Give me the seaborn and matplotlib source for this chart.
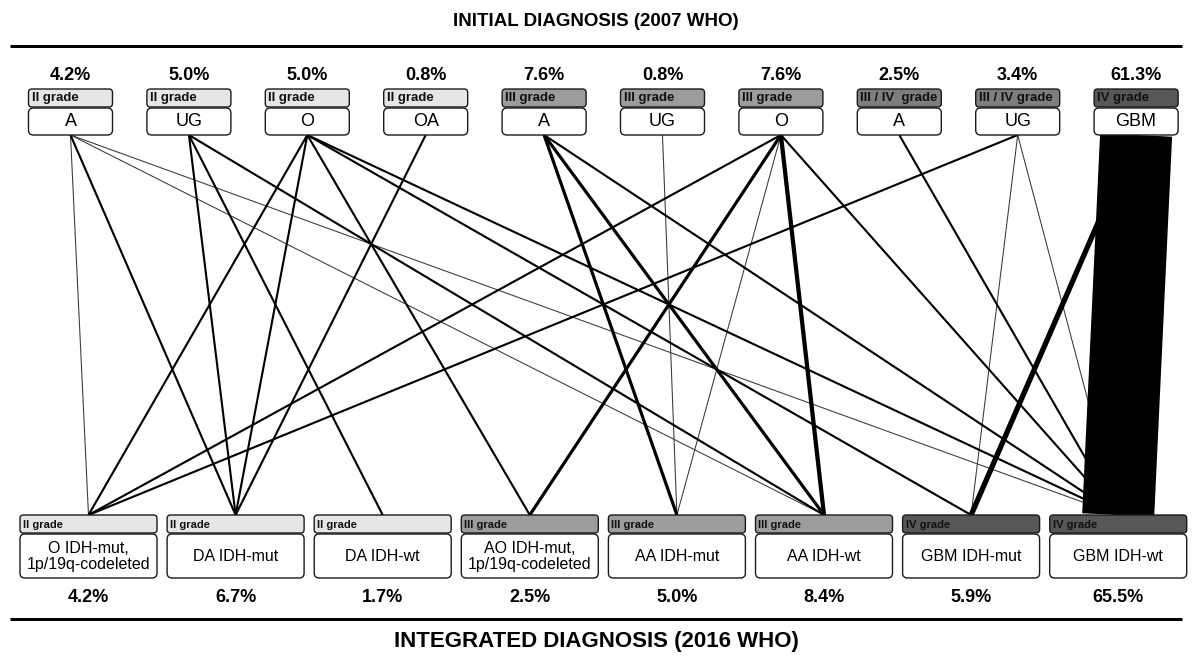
import matplotlib
matplotlib.use("Agg")
import matplotlib.pyplot as plt
from matplotlib.patches import FancyBboxPatch
import seaborn as sns
import pandas as pd

sns.set_theme(style="white")
plt.rcParams["font.family"] = ["Liberation Sans", "DejaVu Sans"]
plt.rcParams["text.color"] = "black"

# initial diagnosis (2007 WHO)
top_names = ["A", "UG", "O", "OA", "A", "UG", "O", "A", "UG", "GBM"]
top_grades = ["II grade", "II grade", "II grade", "II grade", "III grade", "III grade",
              "III grade", "III / IV  grade", "III / IV grade", "IV grade"]
top_pct = ["4.2%", "5.0%", "5.0%", "0.8%", "7.6%", "0.8%", "7.6%", "2.5%", "3.4%", "61.3%"]

# integrated diagnosis (2016 WHO)
bot_names = ["O IDH-mut,\n1p/19q-codeleted", "DA IDH-mut", "DA IDH-wt",
             "AO IDH-mut,\n1p/19q-codeleted", "AA IDH-mut", "AA IDH-wt",
             "GBM IDH-mut", "GBM IDH-wt"]
bot_grades = ["II grade", "II grade", "II grade", "III grade", "III grade", "III grade",
              "IV grade", "IV grade"]
bot_pct = ["4.2%", "6.7%", "1.7%", "2.5%", "5.0%", "8.4%", "5.9%", "65.5%"]

link_from = [0, 0, 0, 0, 1, 1, 1, 2, 2, 2, 2, 2, 3, 4, 4, 4, 5, 6, 6, 6, 6, 6, 7, 8, 8, 8, 9, 9]
link_to   = [0, 1, 5, 7, 1, 2, 5, 0, 1, 3, 6, 7, 1, 4, 5, 7, 4, 0, 3, 4, 5, 7, 7, 0, 6, 7, 6, 7]
link_n    = [1, 2, 1, 1, 2, 2, 2, 2, 2, 2, 2, 2, 2, 3, 3, 2, 1, 2, 3, 1, 4, 2, 2, 2, 1, 1, 5, 68]

grade_fill = {"II": "#e6e6e6", "III": "#9c9c9c", "III / IV": "#7e7e7e", "IV": "#575757"}

W, H = 1192, 658
fig = plt.figure(figsize=(W / 100, H / 100), dpi=100)
ax = fig.add_axes([0, 0, 1, 1])

top_x = [70.5 + 118.4 * i for i in range(len(top_names))]
bot_x = [88.5 + 147.1 * i for i in range(len(bot_names))]
y_top, y_bot = 135, 515

rows = []
for k, (a, b, n) in enumerate(zip(link_from, link_to, link_n)):
    rows.append({"link": k, "x": top_x[a], "y": y_top, "n": n})
    rows.append({"link": k, "x": bot_x[b], "y": y_bot, "n": n})
links = pd.DataFrame(rows)

px = 0.72  # points per pixel at 100 dpi
sns.lineplot(data=links, x="x", y="y", units="link", estimator=None, size="n",
             sizes=(1.06 * px * min(link_n), 1.06 * px * max(link_n)),
             color="black", legend=False, sort=False, ax=ax,
             solid_capstyle="butt")
for ln in ax.lines:
    ln.set_zorder(1 + ln.get_linewidth() / 100)
    if ln.get_linewidth() < 1:
        ln.set_color("#3a3a3a")


def grade_key(g):
    return g.replace("grade", "").strip()


def node(xc, width, y0, hg, hn, grade, name, gsize, nsize):
    x0 = xc - width / 2
    ax.add_patch(FancyBboxPatch((x0, y0), width, hg,
                                boxstyle="round,pad=0,rounding_size=3.5",
                                fc=grade_fill[grade_key(grade)], ec="#1a1a1a", lw=1.0, zorder=5))
    ax.add_patch(FancyBboxPatch((x0, y0 + hg + 1), width, hn,
                                boxstyle="round,pad=0,rounding_size=5",
                                fc="white", ec="#1a1a1a", lw=1.0, zorder=5))
    ax.text(x0 + 3, y0 + hg / 2 + 0.5, grade, ha="left", va="center", fontsize=gsize,
            fontweight="bold", family=["Liberation Sans Narrow", "Liberation Sans"],
            color="#111111", zorder=6)
    ax.text(xc, y0 + hg + 1 + hn / 2 + 0.5, name, ha="center", va="center",
            fontsize=nsize, color="black", linespacing=1.15, zorder=6)


for xc, g, nm, p in zip(top_x, top_grades, top_names, top_pct):
    node(xc, 84, 89, 18, 27, g, nm, 9.5, 13)
    ax.text(xc, 76, p, ha="center", va="center", fontsize=13, fontweight="bold")

for xc, g, nm, p in zip(bot_x, bot_grades, bot_names, bot_pct):
    node(xc, 137, 515, 18, 44, g, nm, 8, 11.5)
    ax.text(xc, 598, p, ha="center", va="center", fontsize=13, fontweight="bold")

ax.plot([10, 1182], [46, 46], color="black", lw=3 * px, solid_capstyle="butt")
ax.plot([10, 1182], [619, 619], color="black", lw=3 * px, solid_capstyle="butt")
ax.text(W / 2, 21, "INITIAL DIAGNOSIS (2007 WHO)", ha="center", va="center",
        fontsize=13.5, fontweight="bold")
ax.text(W / 2, 641, "INTEGRATED DIAGNOSIS (2016 WHO)", ha="center", va="center",
        fontsize=16, fontweight="bold")

ax.set_xlim(0, W)
ax.set_ylim(H, 0)
ax.axis("off")
fig.savefig("out.png", dpi=100, facecolor="white")
